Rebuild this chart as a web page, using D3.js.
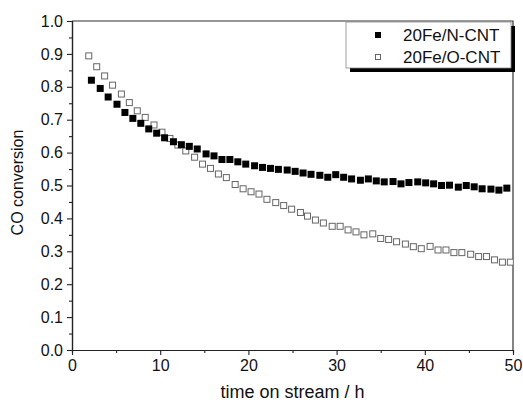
<!DOCTYPE html>
<html>
<head>
<meta charset="utf-8">
<script src="https://cdn.jsdelivr.net/npm/d3@7"></script>
<style>
  body { margin: 0; background: #fff; }
  text { font-family: "Liberation Sans", Arial, sans-serif; }
</style>
</head>
<body>
<div id="chart"></div>
<script>
// data
var timeN = [2.2, 3.2, 4.1, 5.1, 6.0, 6.9, 7.8, 8.7, 9.6, 10.5, 11.5, 12.4, 13.3, 14.2, 15.2, 16.1, 17.0, 17.9,
  18.8, 19.7, 20.7, 21.6, 22.5, 23.4, 24.4, 25.3, 26.2, 27.1, 28.1, 29.0, 29.9, 30.8, 31.7, 32.7, 33.6, 34.5,
  35.4, 36.4, 37.3, 38.2, 39.2, 40.1, 41.0, 41.9, 42.8, 43.8, 44.7, 45.6, 46.5, 47.5, 48.4, 49.3];
var convN = [0.820, 0.795, 0.769, 0.747, 0.722, 0.704, 0.689, 0.672, 0.659, 0.645, 0.633, 0.624, 0.619, 0.611,
  0.596, 0.590, 0.579, 0.579, 0.572, 0.565, 0.560, 0.555, 0.552, 0.549, 0.547, 0.543, 0.538, 0.534, 0.531,
  0.525, 0.533, 0.525, 0.520, 0.516, 0.520, 0.514, 0.511, 0.512, 0.505, 0.509, 0.511, 0.508, 0.505, 0.500,
  0.501, 0.495, 0.500, 0.496, 0.490, 0.489, 0.486, 0.492];

var timeO = [1.9, 2.8, 3.7, 4.6, 5.6, 6.5, 7.4, 8.3, 9.3, 10.2, 11.1, 12.0, 12.9, 13.9, 14.8, 15.7, 16.6, 17.5,
  18.5, 19.4, 20.3, 21.2, 22.1, 23.1, 24.0, 24.9, 25.9, 26.7, 27.6, 28.5, 29.5, 30.4, 31.3, 32.2, 33.1, 34.1,
  35.0, 35.9, 36.8, 37.8, 38.7, 39.6, 40.6, 41.5, 42.4, 43.3, 44.2, 45.2, 46.1, 47.0, 47.9, 48.8, 49.7];
var convO = [0.894, 0.861, 0.833, 0.805, 0.778, 0.752, 0.727, 0.707, 0.684, 0.662, 0.643, 0.623, 0.605, 0.586,
  0.565, 0.552, 0.535, 0.524, 0.503, 0.490, 0.481, 0.474, 0.458, 0.448, 0.439, 0.428, 0.418, 0.407, 0.395,
  0.386, 0.376, 0.376, 0.365, 0.359, 0.350, 0.353, 0.339, 0.336, 0.329, 0.322, 0.314, 0.308, 0.315, 0.304,
  0.304, 0.296, 0.296, 0.291, 0.284, 0.284, 0.274, 0.267, 0.267];

var seriesNames = ["20Fe/N-CNT", "20Fe/O-CNT"];
var xTicks = [0, 10, 20, 30, 40, 50];
var xMinor = [5, 15, 25, 35, 45];
var yTicks = [0.0, 0.1, 0.2, 0.3, 0.4, 0.5, 0.6, 0.7, 0.8, 0.9, 1.0];
var yMinor = [0.05, 0.15, 0.25, 0.35, 0.45, 0.55, 0.65, 0.75, 0.85, 0.95];

// dimensions
var margin = { top: 21, right: 10, bottom: 55, left: 72 },
    width = 523 - margin.left - margin.right,
    height = 405 - margin.top - margin.bottom;

var x = d3.scaleLinear().domain([0, 50]).range([0, width]);
var y = d3.scaleLinear().domain([0, 1]).range([height, 0]);

var svg = d3.select("#chart").append("svg")
    .attr("width", 523)
    .attr("height", 405)
    .append("g")
    .attr("transform", "translate(" + margin.left + "," + margin.top + ")");

svg.append("clipPath").attr("id", "clip")
    .append("rect").attr("width", width).attr("height", height);

// frame (top and right)
svg.append("path")
    .attr("d", "M0,0H" + width + "V" + height)
    .attr("fill", "none")
    .attr("stroke", "#333")
    .attr("stroke-width", 1.2);

function styleAxis(g) {
  g.select(".domain").attr("stroke", "#222").attr("stroke-width", 1.2);
  g.selectAll(".tick line").attr("stroke", "#222").attr("stroke-width", 1.1);
  g.selectAll("text").attr("fill", "#111").style("font-size", "16px")
    .style("font-family", '"Liberation Sans", Arial, sans-serif');
}

// x axis
svg.append("g")
    .attr("transform", "translate(0," + height + ")")
    .call(d3.axisBottom(x).tickValues(xMinor).tickSize(3).tickFormat(""))
    .call(styleAxis);
svg.append("g")
    .attr("transform", "translate(0," + height + ")")
    .call(d3.axisBottom(x).tickValues(xTicks).tickSize(5).tickSizeOuter(0).tickPadding(5).tickFormat(d3.format("d")))
    .call(styleAxis);

// y axis
svg.append("g")
    .call(d3.axisLeft(y).tickValues(yMinor).tickSize(3).tickFormat(""))
    .call(styleAxis);
svg.append("g")
    .call(d3.axisLeft(y).tickValues(yTicks).tickSize(5).tickSizeOuter(0).tickPadding(4).tickFormat(d3.format(".1f")))
    .call(styleAxis);

// axis titles
svg.append("text")
    .attr("x", width / 2)
    .attr("y", height + 48)
    .attr("text-anchor", "middle")
    .style("font-size", "18px")
    .attr("fill", "#111")
    .text("time on stream / h");

svg.append("text")
    .attr("transform", "rotate(-90)")
    .attr("x", -height / 2 + 3)
    .attr("y", -61)
    .attr("dy", "0.75em")
    .attr("text-anchor", "middle")
    .style("font-size", "16px")
    .attr("fill", "#111")
    .text("CO conversion");

// markers
var plot = svg.append("g").attr("clip-path", "url(#clip)");
var s = 7;

plot.selectAll(".open")
    .data(d3.zip(timeO, convO))
    .enter().append("rect")
    .attr("class", "open")
    .attr("x", function (d) { return x(d[0]) - (s - 1) / 2; })
    .attr("y", function (d) { return y(d[1]) - (s - 1) / 2; })
    .attr("width", s - 1)
    .attr("height", s - 1)
    .attr("fill", "#fff")
    .attr("stroke", "#666")
    .attr("stroke-width", 1);

plot.selectAll(".filled")
    .data(d3.zip(timeN, convN))
    .enter().append("rect")
    .attr("class", "filled")
    .attr("x", function (d) { return x(d[0]) - s / 2; })
    .attr("y", function (d) { return y(d[1]) - s / 2; })
    .attr("width", s)
    .attr("height", s)
    .attr("fill", "#000");

// legend
var lg = svg.append("g").attr("transform", "translate(" + (width - 167) + ",1)");
lg.append("rect").attr("x", 4).attr("y", 4).attr("width", 165).attr("height", 46).attr("fill", "#000");
lg.append("rect").attr("x", 0).attr("y", 0).attr("width", 165).attr("height", 46)
    .attr("fill", "#fff").attr("stroke", "#888").attr("stroke-width", 0.8);

seriesNames.forEach(function (name, i) {
  var row = lg.append("g").attr("transform", "translate(0," + (13 + i * 22) + ")");
  if (i === 0) {
    row.append("rect").attr("x", 29).attr("y", -3).attr("width", 6).attr("height", 6).attr("fill", "#000");
  } else {
    row.append("rect").attr("x", 29.5).attr("y", -2.5).attr("width", 5).attr("height", 5)
        .attr("fill", "#fff").attr("stroke", "#666").attr("stroke-width", 1);
  }
  row.append("text").attr("x", 57).attr("y", 6)
      .style("font-size", "17px").attr("fill", "#111").text(name);
});
</script>
</body>
</html>
